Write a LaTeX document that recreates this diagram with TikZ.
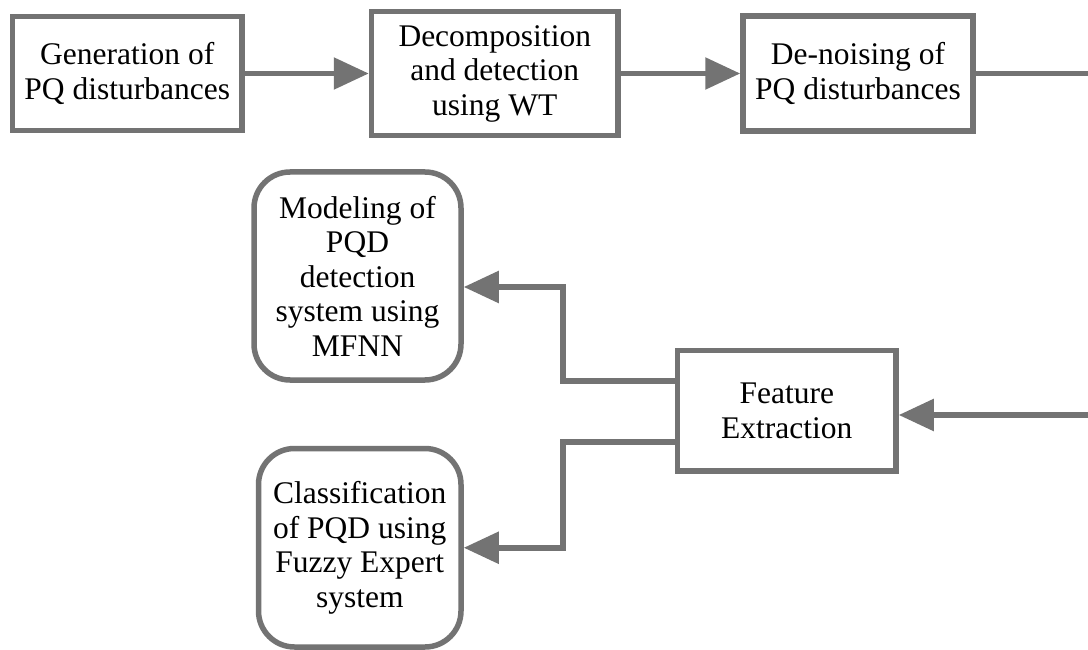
\documentclass[tikz,border=0pt]{standalone}
\usepackage{fontspec}
\setmainfont{Liberation Serif}
\newfontfamily\boxface{Liberation Serif}
\usetikzlibrary{arrows.meta}
\definecolor{edgegray}{RGB}{115,115,115}
\tikzset{
  x=1bp, y=-1bp,
  every node/.style={font=\boxface\fontsize{31.5bp}{34.5bp}\selectfont, align=center, inner sep=0pt},
  squarebox/.style={draw=edgegray, line width=5.5bp, fill=white, rectangle},
  roundbox/.style={draw=edgegray, line width=5.5bp, fill=white, rectangle, rounded corners=36bp},
  link/.style={draw=edgegray, line width=5.5bp},
  flow/.style={link, -{Triangle[length=35bp,width=31bp]}},
}
\begin{document}
\begin{tikzpicture}
\useasboundingbox (0,0) rectangle (1088,650);

% top row of processing stages
\node[squarebox, minimum width=229.5bp, minimum height=114bp] (gen) at (127.25,73.5)
  {Generation of\\PQ disturbances};
\node[squarebox, minimum width=246.5bp, minimum height=123.5bp] (dec) at (494.75,73.5)
  {Decomposition\\and detection\\using WT};
\node[squarebox, minimum width=230bp, minimum height=114.5bp] (den) at (858,73.5)
  {De-noising of\\PQ disturbances};

% feature extraction and its two consumers
\node[squarebox, minimum width=218.5bp, minimum height=120.5bp] (fe) at (786.75,410.75)
  {Feature\\Extraction};
\node[roundbox, minimum width=207bp, minimum height=208bp] (mod) at (357.5,276)
  {Modeling of\\PQD\\detection\\system using\\MFNN};
\node[roundbox, minimum width=202.5bp, minimum height=198.5bp] (cls) at (359.75,547.75)
  {Classification\\of PQD using\\Fuzzy Expert\\system};

% free ends at the right margin
\coordinate (rout) at (1088,73.5);
\coordinate (rin) at (1088,415);

% routing points of the branch connectors
\coordinate (j1) at (563,381);
\coordinate (m1) at (563,287);
\coordinate (j2) at (563,442);
\coordinate (c1) at (563,547.75);

% connectors
\draw[flow] (gen) -- (dec);
\draw[flow] (dec) -- (den);
\draw[link] (den.east) -- (rout);
\draw[flow] (rin) -- (rin -| fe.east);
\draw[flow] (fe.west |- j1) -- (j1) -- (m1) -- (m1 -| mod.east);
\draw[flow] (fe.west |- j2) -- (j2) -- (c1) -- (cls.east);
\end{tikzpicture}
\end{document}
